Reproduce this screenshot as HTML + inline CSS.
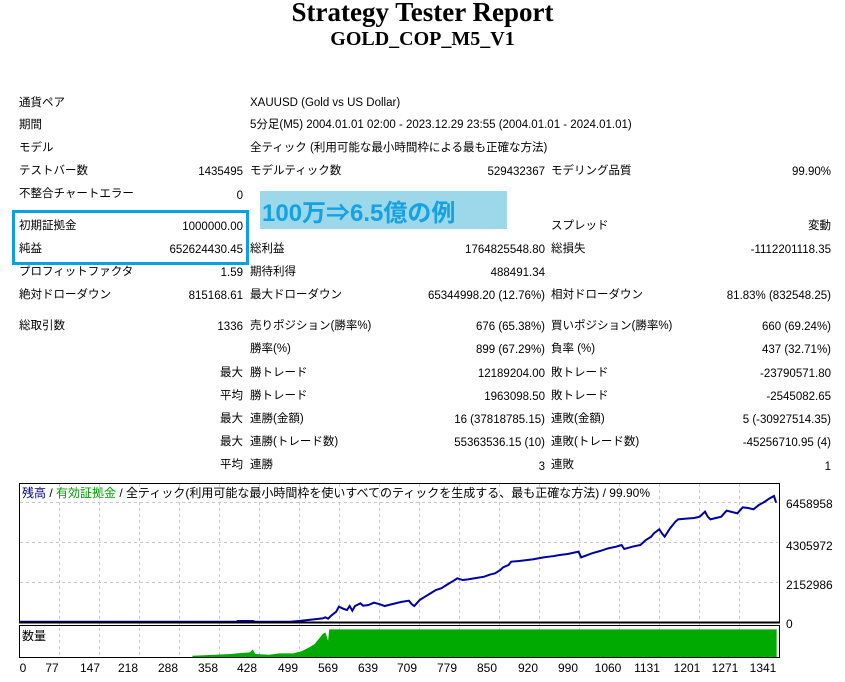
<!DOCTYPE html>
<html><head><meta charset="utf-8"><style>
body{margin:0;width:845px;height:682px;background:#fff;position:relative;overflow:hidden;font-family:"Liberation Sans","Noto Sans CJK JP",sans-serif;font-size:11.5px;color:#000}
.t{position:absolute;white-space:nowrap;line-height:14px}
.r{text-align:right}
h1,h2{position:absolute;left:0;width:845px;text-align:center;margin:0;font-family:"Liberation Serif",serif;font-weight:bold}
</style></head><body>
<h1 style="top:-3px;font-size:27px">Strategy Tester Report</h1>
<h2 style="top:28px;font-size:20px">GOLD_COP_M5_V1</h2>

<div class="t" style="left:19px;top:96px">通貨ペア</div>
<div class="t" style="left:250px;top:96px">XAUUSD (Gold vs US Dollar)</div>
<div class="t" style="left:19px;top:118px">期間</div>
<div class="t" style="left:250px;top:118px">5分足(M5) 2004.01.01 02:00 - 2023.12.29 23:55 (2004.01.01 - 2024.01.01)</div>
<div class="t" style="left:19px;top:141px">モデル</div>
<div class="t" style="left:250px;top:141px">全ティック (利用可能な最小時間枠による最も正確な方法)</div>
<div class="t" style="left:19px;top:164px">テストバー数</div>
<div class="t r" style="right:602px;top:165px">1435495</div>
<div class="t" style="left:250px;top:164px">モデルティック数</div>
<div class="t r" style="right:300px;top:165px">529432367</div>
<div class="t" style="left:551px;top:164px">モデリング品質</div>
<div class="t r" style="right:14px;top:165px">99.90%</div>
<div class="t" style="left:19px;top:187px">不整合チャートエラー</div>
<div class="t r" style="right:602px;top:189px">0</div>

<div style="position:absolute;left:260px;top:191px;width:247px;height:38px;background:#9dd7ea"></div>
<div class="t" style="left:262px;top:200px;font-size:24px;line-height:28px;font-weight:bold;color:#14a2e2">100万⇒6.5億の例</div>
<div style="position:absolute;left:12px;top:210px;width:231px;height:49px;border:3px solid #0aa0e2"></div>

<div class="t" style="left:19px;top:219px">初期証拠金</div>
<div class="t r" style="right:602px;top:220px">1000000.00</div>
<div class="t" style="left:551px;top:219px">スプレッド</div>
<div class="t r" style="right:14px;top:219px">変動</div>
<div class="t" style="left:19px;top:242px">純益</div>
<div class="t r" style="right:602px;top:243px">652624430.45</div>
<div class="t" style="left:250px;top:242px">総利益</div>
<div class="t r" style="right:300px;top:243px">1764825548.80</div>
<div class="t" style="left:551px;top:242px">総損失</div>
<div class="t r" style="right:14px;top:243px">-1112201118.35</div>
<div class="t" style="left:19px;top:265px">プロフィットファクタ</div>
<div class="t r" style="right:602px;top:266px">1.59</div>
<div class="t" style="left:250px;top:265px">期待利得</div>
<div class="t r" style="right:300px;top:266px">488491.34</div>
<div class="t" style="left:19px;top:288px">絶対ドローダウン</div>
<div class="t r" style="right:602px;top:289px">815168.61</div>
<div class="t" style="left:250px;top:288px">最大ドローダウン</div>
<div class="t r" style="right:300px;top:289px">65344998.20 (12.76%)</div>
<div class="t" style="left:551px;top:288px">相対ドローダウン</div>
<div class="t r" style="right:14px;top:289px">81.83% (832548.25)</div>

<div class="t" style="left:19px;top:319px">総取引数</div>
<div class="t r" style="right:602px;top:320px">1336</div>
<div class="t" style="left:250px;top:319px">売りポジション(勝率%)</div>
<div class="t r" style="right:300px;top:320px">676 (65.38%)</div>
<div class="t" style="left:551px;top:319px">買いポジション(勝率%)</div>
<div class="t r" style="right:14px;top:320px">660 (69.24%)</div>

<div class="t" style="left:250px;top:342px">勝率(%)</div>
<div class="t r" style="right:300px;top:343px">899 (67.29%)</div>
<div class="t" style="left:551px;top:342px">負率 (%)</div>
<div class="t r" style="right:14px;top:343px">437 (32.71%)</div>

<div class="t r" style="right:602px;top:366px">最大</div>
<div class="t" style="left:250px;top:366px">勝トレード</div>
<div class="t r" style="right:300px;top:367px">12189204.00</div>
<div class="t" style="left:551px;top:366px">敗トレード</div>
<div class="t r" style="right:14px;top:367px">-23790571.80</div>

<div class="t r" style="right:602px;top:389px">平均</div>
<div class="t" style="left:250px;top:389px">勝トレード</div>
<div class="t r" style="right:300px;top:390px">1963098.50</div>
<div class="t" style="left:551px;top:389px">敗トレード</div>
<div class="t r" style="right:14px;top:390px">-2545082.65</div>

<div class="t r" style="right:602px;top:412px">最大</div>
<div class="t" style="left:250px;top:412px">連勝(金額)</div>
<div class="t r" style="right:300px;top:413px">16 (37818785.15)</div>
<div class="t" style="left:551px;top:412px">連敗(金額)</div>
<div class="t r" style="right:14px;top:413px">5 (-30927514.35)</div>

<div class="t r" style="right:602px;top:435px">最大</div>
<div class="t" style="left:250px;top:435px">連勝(トレード数)</div>
<div class="t r" style="right:300px;top:436px">55363536.15 (10)</div>
<div class="t" style="left:551px;top:435px">連敗(トレード数)</div>
<div class="t r" style="right:14px;top:436px">-45256710.95 (4)</div>

<div class="t r" style="right:602px;top:458px">平均</div>
<div class="t" style="left:250px;top:458px">連勝</div>
<div class="t r" style="right:300px;top:460px">3</div>
<div class="t" style="left:551px;top:458px">連敗</div>
<div class="t r" style="right:14px;top:460px">1</div>

<svg style="position:absolute;left:0;top:0" width="845" height="682" font-family="Liberation Sans, Noto Sans CJK JP, sans-serif">
<g stroke="#c8c8c8" stroke-dasharray="3,3" stroke-width="1">
<line x1="20" y1="502.5" x2="778" y2="502.5"/><line x1="20" y1="542.5" x2="778" y2="542.5"/><line x1="20" y1="582.5" x2="778" y2="582.5"/>
<line x1="59.5" y1="484" x2="59.5" y2="657"/><line x1="99.5" y1="484" x2="99.5" y2="657"/><line x1="139.5" y1="484" x2="139.5" y2="657"/><line x1="179.5" y1="484" x2="179.5" y2="657"/><line x1="219.5" y1="484" x2="219.5" y2="657"/><line x1="259.5" y1="484" x2="259.5" y2="657"/><line x1="299.5" y1="484" x2="299.5" y2="657"/><line x1="339.5" y1="484" x2="339.5" y2="657"/><line x1="379.5" y1="484" x2="379.5" y2="657"/><line x1="419.5" y1="484" x2="419.5" y2="657"/><line x1="459.5" y1="484" x2="459.5" y2="657"/><line x1="499.5" y1="484" x2="499.5" y2="657"/><line x1="539.5" y1="484" x2="539.5" y2="657"/><line x1="579.5" y1="484" x2="579.5" y2="657"/><line x1="619.5" y1="484" x2="619.5" y2="657"/><line x1="659.5" y1="484" x2="659.5" y2="657"/><line x1="699.5" y1="484" x2="699.5" y2="657"/><line x1="739.5" y1="484" x2="739.5" y2="657"/>
</g>
<g transform="translate(19,480) scale(0.5385,0.3334) translate(-36,0)">
<polygon fill="#00aa00" points="358,532 358,527 400,524 430,522 440,520 465,517 470,508 475,522 500,524 520,520 545,520 560,514 575,502 585,492 595,472 600,462 605,457 610,482 612,448 620,448 1443,448 1443,532"/>
<polyline fill="none" stroke="#0000a0" stroke-width="2" vector-effect="non-scaling-stroke" points="36,425 440,425 442,423 470,423 475,425 540,425 560,422 600,415 605,412 610,416 615,408 625,395 630,380 638,386 645,390 650,378 655,392 660,378 670,370 675,377 685,375 695,368 705,372 715,378 730,372 745,366 760,362 765,372 770,378 780,360 790,350 800,340 810,330 820,325 830,315 840,305 850,295 860,300 870,298 885,294 900,290 910,284 920,280 930,270 935,262 945,255 950,245 965,243 980,240 990,238 1000,235 1010,232 1020,230 1030,228 1040,225 1055,222 1075,215 1080,232 1090,226 1100,220 1115,213 1130,205 1145,200 1155,195 1160,207 1175,200 1190,195 1200,180 1210,170 1215,160 1225,148 1230,160 1235,170 1245,145 1255,125 1260,118 1275,116 1290,114 1300,110 1310,95 1315,110 1320,118 1330,114 1340,110 1350,92 1360,96 1370,100 1380,82 1390,84 1400,88 1410,75 1420,66 1430,55 1438,48 1442,68"/>
</g>
<rect x="19.5" y="483.5" width="760" height="139" fill="none" stroke="#000"/>
<line x1="19" y1="622.5" x2="780" y2="622.5" stroke="#000" stroke-width="2"/>
<rect x="19.5" y="625.5" width="760" height="32" fill="none" stroke="#000"/>
<text x="22" y="497" font-size="12"><tspan fill="#000080">残高</tspan> / <tspan fill="#00a000">有効証拠金</tspan> / 全ティック(利用可能な最小時間枠を使いすべてのティックを生成する、最も正確な方法) / 99.90%</text>
<text x="22" y="640" font-size="12">数量</text>
<g font-size="12"><text x="786" y="508">6458958</text><text x="786" y="550">4305972</text><text x="786" y="589">2152986</text><text x="786" y="628">0</text></g>
<g font-size="12" text-anchor="middle">
<text x="23" y="672">0</text><text x="52" y="672">77</text><text x="90" y="672">147</text><text x="128" y="672">218</text><text x="168" y="672">288</text><text x="208" y="672">358</text><text x="247" y="672">428</text><text x="288" y="672">499</text><text x="328" y="672">569</text><text x="368" y="672">639</text><text x="407" y="672">709</text><text x="447" y="672">779</text><text x="487" y="672">850</text><text x="528" y="672">920</text><text x="568" y="672">990</text><text x="608" y="672">1060</text><text x="647" y="672">1131</text><text x="687" y="672">1201</text><text x="725" y="672">1271</text><text x="763" y="672">1341</text>
</g>
</svg>
</body></html>
